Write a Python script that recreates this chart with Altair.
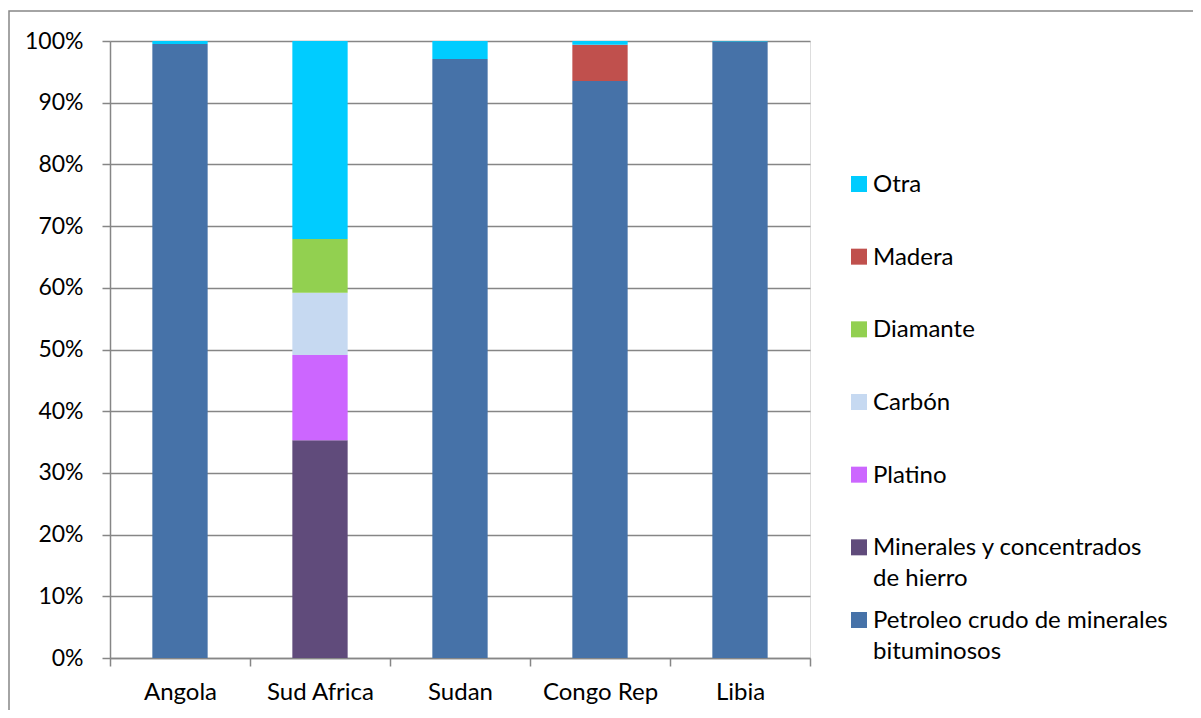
import altair as alt
import pandas as pd

countries = ["Angola", "Sud Africa", "Sudan", "Congo Rep", "Libia"]

series = [
    "Petroleo crudo de minerales bituminosos",
    "Minerales y concentrados de hierro",
    "Platino",
    "Carbón",
    "Diamante",
    "Madera",
    "Otra",
]
legend_labels = [
    "Petroleo crudo de minerales\nbituminosos",
    "Minerales y concentrados\nde hierro",
    "Platino",
    "Carbón",
    "Diamante",
    "Madera",
    "Otra",
]
colors = ["#4672A8", "#604B7B", "#CC66FF", "#C6D9F1", "#92D050", "#C0504D", "#00CCFF"]

petroleo = [99.5, 0.0, 97.1, 93.5, 99.9]
minerales = [0.0, 35.3, 0.0, 0.0, 0.0]
platino = [0.0, 13.8, 0.0, 0.0, 0.0]
carbon = [0.0, 10.1, 0.0, 0.0, 0.0]
diamante = [0.0, 8.7, 0.0, 0.0, 0.0]
madera = [0.0, 0.0, 0.0, 5.9, 0.0]
otra = [0.5, 32.1, 2.9, 0.6, 0.1]

values = [petroleo, minerales, platino, carbon, diamante, madera, otra]

rows = []
for si, (s, vals) in enumerate(zip(series, values)):
    for c, v in zip(countries, vals):
        rows.append({"Pais": c, "Serie": s, "Valor": v, "Orden": si})
df = pd.DataFrame(rows)

legend_order = list(reversed(series))
leg_df = pd.DataFrame({"Serie": series, "Etiqueta": legend_labels})

FONT = "Lato"
W, H = 700, 617

color_scale = alt.Scale(domain=series, range=colors)

bars = alt.Chart(df).mark_bar(width=alt.RelativeBandSize(0.395)).encode(
    x=alt.X(
        "Pais:N",
        sort=countries,
        title=None,
        scale=alt.Scale(paddingInner=0, paddingOuter=0),
        axis=alt.Axis(
            labelAngle=0,
            tickBand="extent",
            tickSize=8,
            labelPadding=14,
            domainColor="#868686",
            tickColor="#868686",
            domainWidth=1.5,
            tickWidth=1.5,
            labelFontSize=24,
            labelColor="#000000",
            labelFont=FONT,
            grid=False,
        ),
    ),
    y=alt.Y(
        "Valor:Q",
        stack="normalize",
        title=None,
        scale=alt.Scale(domain=[0, 1], nice=False),
        axis=alt.Axis(
            format=".0%",
            values=[i / 10 for i in range(11)],
            tickSize=8,
            labelPadding=19,
            domainColor="#868686",
            tickColor="#868686",
            gridColor="#868686",
            domainWidth=1.5,
            tickWidth=1.5,
            gridWidth=1.5,
            labelFontSize=23,
            labelColor="#000000",
            labelFont=FONT,
        ),
    ),
    color=alt.Color("Serie:N", scale=color_scale, legend=None),
    order=alt.Order("Orden:Q", sort="ascending"),
)

leg_y = alt.Y(
    "Serie:N",
    sort=legend_order,
    scale=alt.Scale(type="point", range=[143, 579], padding=0),
    axis=None,
)

leg_sym = alt.Chart(leg_df).mark_square(size=256, opacity=1).encode(
    x=alt.value(749),
    y=leg_y,
    color=alt.Color("Serie:N", scale=color_scale, legend=None),
)

leg_txt = alt.Chart(leg_df).mark_text(
    align="left",
    baseline="alphabetic",
    dy=8,
    lineBreak="\n",
    lineHeight=31,
    fontSize=24,
    font=FONT,
    color="#000000",
).encode(
    x=alt.value(763),
    y=leg_y,
    text="Etiqueta:N",
)

border = alt.Chart(pd.DataFrame({"k": [0]})).mark_rect(
    fill=None, stroke="#868686", strokeWidth=1.5, clip=False
).encode(
    x=alt.value(-101), x2=alt.value(1200), y=alt.value(-30), y2=alt.value(720)
)

chart = (
    alt.layer(border, bars, leg_sym, leg_txt)
    .resolve_scale(y="independent")
    .properties(
        width=W,
        height=H,
        autosize=alt.AutoSizeParams(type="none"),
        padding={"left": 102, "top": 33, "right": 383, "bottom": 52},
    )
    .configure_view(stroke=None)
    .configure(font=FONT, background="#ffffff")
)

chart.save("out.html", embed_options={"renderer": "svg", "actions": False})
